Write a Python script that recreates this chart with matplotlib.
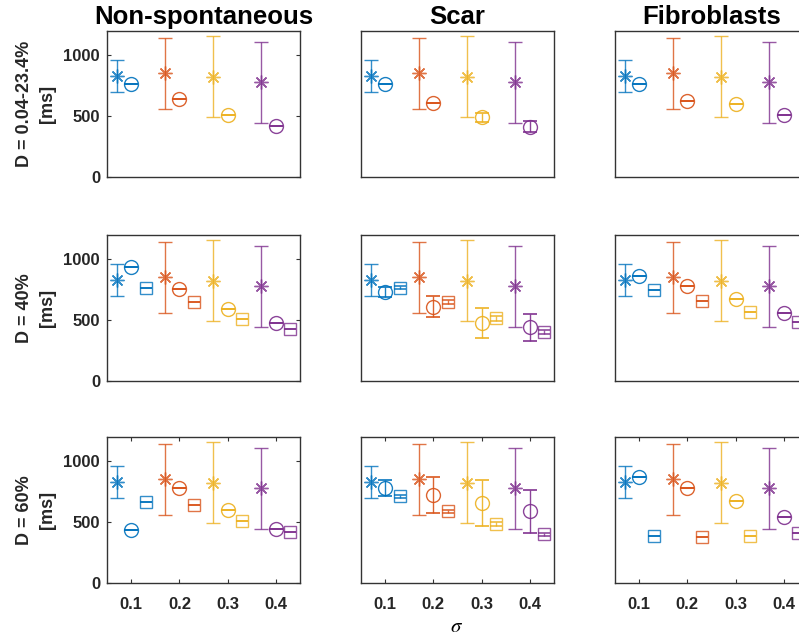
import numpy as np
import matplotlib.pyplot as plt

plt.rcParams['font.family'] = ['Liberation Sans', 'DejaVu Sans']
plt.rcParams['mathtext.fontset'] = 'stix'

# x positions and colours (one colour per sigma)
sigma = np.array([0.1, 0.2, 0.3, 0.4])
colors = ['#0072BD', '#D95319', '#EDB120', '#7E2F8E']
titles = ['Non-spontaneous', 'Scar', 'Fibroblasts']
row_labels = ['D = 0.04-23.4%\n[ms]', 'D = 40%\n[ms]', 'D = 60%\n[ms]']

# reference (asterisk), same in every panel
ref_mean = [828, 853, 826, 777]
ref_std = [132, 290, 333, 335]

# circles, one list per column (Non-spontaneous, Scar, Fibroblasts)
circ_mean_r1 = [[765, 642, 510, 422], [765, 606, 490, 415], [765, 628, 604, 508]]
circ_std_r1 = [[0, 0, 0, 0], [0, 0, 40, 47], [0, 0, 0, 0]]
circ_mean_r2 = [[939, 753, 594, 473], [734, 611, 479, 441], [863, 783, 674, 559]]
circ_std_r2 = [[0, 0, 0, 0], [40, 87, 124, 110], [0, 0, 0, 0]]
circ_mean_r3 = [[435, 781, 596, 443], [778, 721, 661, 588], [873, 781, 672, 541]]
circ_std_r3 = [[0, 0, 0, 0], [66, 147, 189, 180], [0, 0, 0, 0]]

# squares (rows 2 and 3 only)
sq_mean_r2 = [[764, 646, 512, 427], [767, 649, 515, 405], [748, 660, 570, 485]]
sq_std_r2 = [[0, 0, 0, 0], [12, 15, 18, 18], [0, 0, 0, 0]]
sq_mean_r3 = [[664, 639, 506, 419], [713, 588, 487, 400], [384, 378, 384, 411]]
sq_std_r3 = [[0, 0, 0, 0], [12, 15, 15, 15], [0, 0, 0, 0]]

circ_mean = [circ_mean_r1, circ_mean_r2, circ_mean_r3]
circ_std = [circ_std_r1, circ_std_r2, circ_std_r3]
sq_mean = [None, sq_mean_r2, sq_mean_r3]
sq_std = [None, sq_std_r2, sq_std_r3]

W, H = 799, 640
fig = plt.figure(figsize=(W / 100, H / 100), dpi=100)

lefts = [107, 361, 615]
tops = [31, 235, 437]
aw, ah = 193, 146

for r in range(3):
    for c in range(3):
        ax = fig.add_axes([lefts[c] / W, 1 - (tops[r] + ah) / H, aw / W, ah / H])
        for i in range(4):
            col = colors[i]
            ax.errorbar(sigma[i] - 0.03, ref_mean[i], yerr=ref_std[i], color=col,
                        marker=(8, 2, 0), markersize=10, capsize=4.8, lw=1,
                        capthick=1, alpha=0.8)
            ax.errorbar(sigma[i], circ_mean[r][c][i], yerr=circ_std[r][c][i],
                        color=col, marker='o', markersize=10, mfc='none',
                        capsize=4.8, lw=1, capthick=1.3, alpha=0.9)
            if sq_mean[r] is not None:
                ax.errorbar(sigma[i] + 0.03, sq_mean[r][c][i], yerr=sq_std[r][c][i],
                            color=col, marker='s', markersize=8.5, mfc='none',
                            capsize=4.2, lw=1, capthick=1.3, alpha=0.8)
        ax.set_xlim(0.05, 0.45)
        ax.set_ylim(0, 1200)
        ax.set_xticks(sigma)
        ax.set_yticks([0, 500, 1000])
        for s in ax.spines.values():
            s.set_color('#333333')
            s.set_linewidth(1)
        ax.tick_params(direction='in', length=3, color='#333333',
                       labelsize=12, left=(c == 0), right=(c == 0),
                       labelleft=(c == 0), bottom=(r == 2), top=(r == 2),
                       labelbottom=(r == 2))
        ax.tick_params(axis='x', pad=10)
        ax.tick_params(axis='y', pad=5)
        for lab in ax.get_xticklabels() + ax.get_yticklabels():
            lab.set_fontweight('bold')
            lab.set_color('#262626')
        if r == 0:
            ax.set_title(titles[c], fontsize=18.5, fontweight='bold', pad=5)
    fig.text(36 / W, 1 - (tops[r] + ah / 2) / H, row_labels[r], rotation=90,
             ha='center', va='center', multialignment='center',
             fontsize=13, fontweight='bold', linespacing=1.5, color='#262626')

fig.text(457 / W, 1 - 627 / H, r'$\sigma$', ha='center', va='center', fontsize=15)

fig.savefig('out.png', dpi=100)
